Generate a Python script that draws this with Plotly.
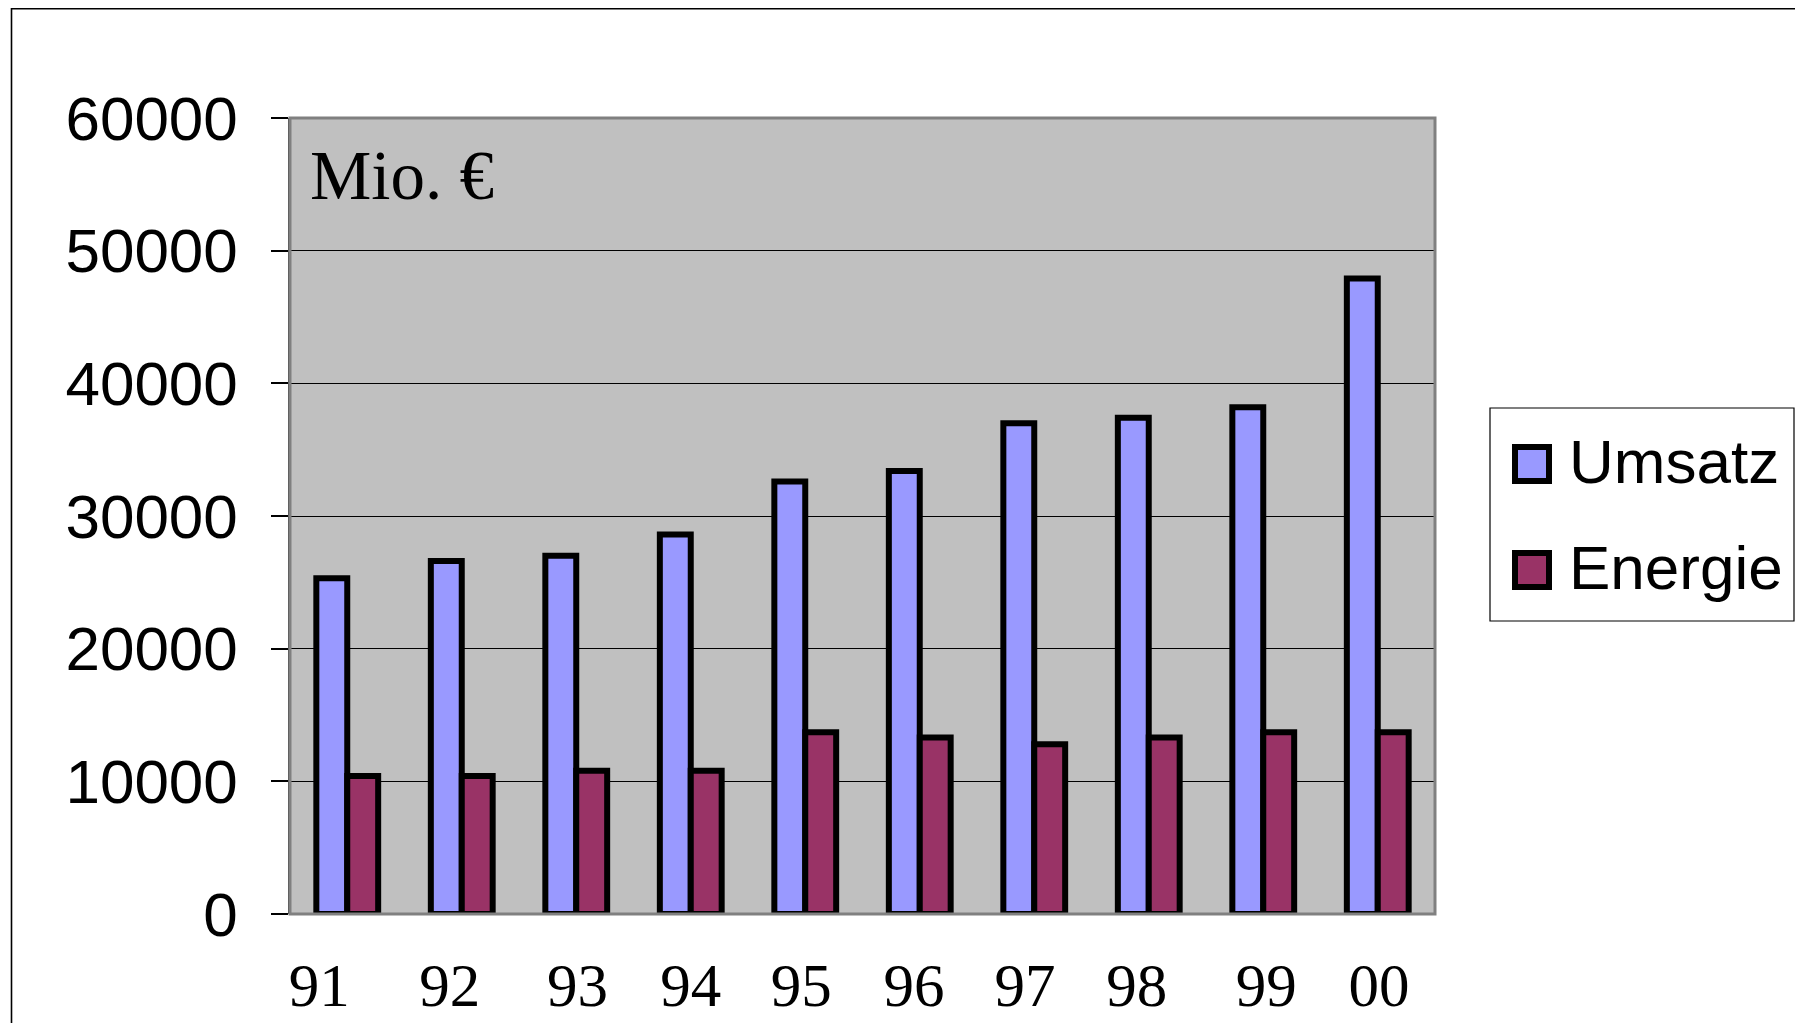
import plotly.graph_objects as go

years = ["91", "92", "93", "94", "95", "96", "97", "98", "99", "00"]
umsatz = [25300, 26600, 27000, 28600, 32600, 33400, 37000, 37400, 38200, 47900]
energie = [10400, 10400, 10800, 10800, 13700, 13300, 12800, 13300, 13700, 13700]
series_names = ["Umsatz", "Energie"]
y_ticks = [0, 10000, 20000, 30000, 40000, 50000, 60000]
# small horizontal nudges of the year labels (in category widths), as in the original
label_shift = [-0.245, -0.105, 0.01, 0.0, -0.035, -0.05, -0.08, -0.105, 0.026, 0.01]

OFF = 8  # default page body margin
W, H = 1803 - OFF, 1023 - OFF
# plot area in page pixels
PL, PR, PT, PB = 290, 1435, 118, 914
L, R, T, B = PL - OFF, PR - OFF, PT - OFF, PB - OFF

def px(x):
    return (x - PL) / (PR - PL)

def py(y):
    return (PB - y) / (PB - PT)

C_U = "#9999FF"
C_E = "#993366"

fig = go.Figure()
fig.add_trace(go.Bar(x=years, y=umsatz, name=series_names[0],
                     marker=dict(color=C_U, line=dict(color="black", width=6))))
fig.add_trace(go.Bar(x=years, y=energie, name=series_names[1],
                     marker=dict(color=C_E, line=dict(color="black", width=6))))

shapes = [
    # outer chart border (only top and left visible)
    dict(type="rect", xref="paper", yref="paper", x0=px(11.5), x1=px(1900), y0=py(1100), y1=py(OFF + 0.8),
         line=dict(color="black", width=1.6), layer="below"),
    # plot area border
    dict(type="rect", xref="paper", yref="paper", x0=0, x1=1, y0=0, y1=1,
         line=dict(color="#808080", width=3), layer="above"),
    # legend box
    dict(type="rect", xref="paper", yref="paper", x0=px(1490), x1=px(1794), y0=py(621), y1=py(408),
         line=dict(color="black", width=1.2), fillcolor="white"),
    dict(type="rect", xref="paper", yref="paper", x0=px(1515), x1=px(1549), y0=py(481), y1=py(447),
         line=dict(color="black", width=6), fillcolor=C_U),
    dict(type="rect", xref="paper", yref="paper", x0=px(1515), x1=px(1549), y0=py(587), y1=py(553),
         line=dict(color="black", width=6), fillcolor=C_E),
]

annotations = [
    dict(text="Mio. €", xref="paper", yref="paper", x=px(308), y=py(176), xanchor="left", yanchor="middle",
         showarrow=False, font=dict(family="Liberation Serif", size=69, color="black")),
    dict(text=series_names[0], xref="paper", yref="paper", x=px(1567), y=py(461), xanchor="left", yanchor="middle",
         showarrow=False, font=dict(family="Liberation Sans", size=62, color="black")),
    dict(text=series_names[1], xref="paper", yref="paper", x=px(1567), y=py(567), xanchor="left", yanchor="middle",
         showarrow=False, font=dict(family="Liberation Sans", size=62, color="black")),
]

fig.update_layout(
    width=W, height=H,
    margin=dict(l=L, r=W - R, t=T, b=H - B, pad=0, autoexpand=False),
    paper_bgcolor="white", plot_bgcolor="#C0C0C0",
    barmode="group", bargap=0.46, bargroupgap=0,
    showlegend=False,
    shapes=shapes, annotations=annotations,
    xaxis=dict(type="category", showgrid=False, zeroline=False, showline=False,
               ticks="", showticklabels=False, fixedrange=True, automargin=False),
    xaxis2=dict(overlaying="x", side="bottom", anchor="y", range=[-0.5, len(years) - 0.5],
                tickmode="array",
                tickvals=[i + s for i, s in enumerate(label_shift)], ticktext=years,
                showgrid=False, zeroline=False, showline=False, ticks="",
                tickfont=dict(family="Liberation Serif", size=61, color="black"),
                ticklabelstandoff=30, fixedrange=True, automargin=False),
    yaxis=dict(range=[0, 60000], tickvals=y_ticks, tickformat="d",
               showgrid=True, gridcolor="black", gridwidth=1, zeroline=False,
               showline=True, linecolor="#404040", linewidth=1.5,
               ticks="outside", ticklen=17, tickwidth=1.5, tickcolor="black",
               tickfont=dict(family="Liberation Sans", size=62, color="black"),
               ticklabelstandoff=21, fixedrange=True, automargin=False),
)
# invisible carrier so the label axis is drawn
fig.add_trace(go.Scatter(x=[0], y=[0], xaxis="x2", mode="markers", marker=dict(opacity=0),
                         hoverinfo="skip", showlegend=False))

fig.write_html("out.html")
